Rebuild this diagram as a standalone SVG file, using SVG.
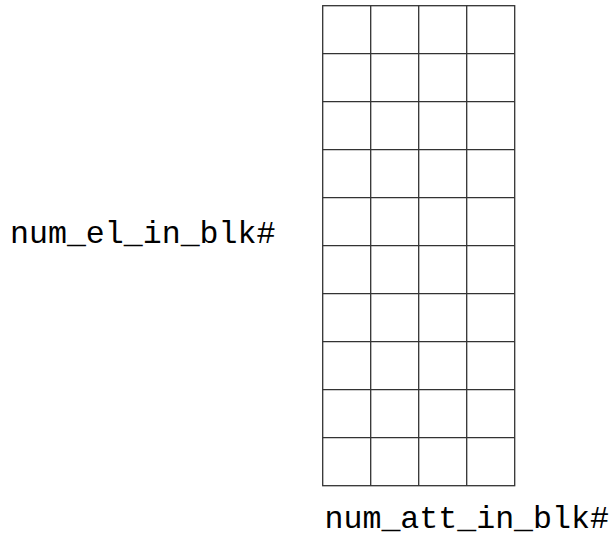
<svg xmlns="http://www.w3.org/2000/svg" width="611" height="539" viewBox="0 0 611 539">
<style>
.g{stroke:#333;stroke-width:1.3;fill:none}
.t{font-family:"Liberation Mono","Courier New",monospace;font-size:31.6px;fill:#000}
</style>
<rect width="611" height="539" fill="#fff"/>
<g id="grid">
<rect class="g" x="322.7" y="5.7" width="192" height="480"/>
<path class="g" d="M370.7 5.7V485.7M418.7 5.7V485.7M466.7 5.7V485.7M322.7 53.7H514.7M322.7 101.7H514.7M322.7 149.7H514.7M322.7 197.7H514.7M322.7 245.7H514.7M322.7 293.7H514.7M322.7 341.7H514.7M322.7 389.7H514.7M322.7 437.7H514.7"/>
</g>
<g id="label-rows"><text class="t" x="10" y="243">num_el_in_blk#</text></g>
<g id="label-cols"><text class="t" x="324.5" y="528">num_att_in_blk#</text></g>
</svg>
